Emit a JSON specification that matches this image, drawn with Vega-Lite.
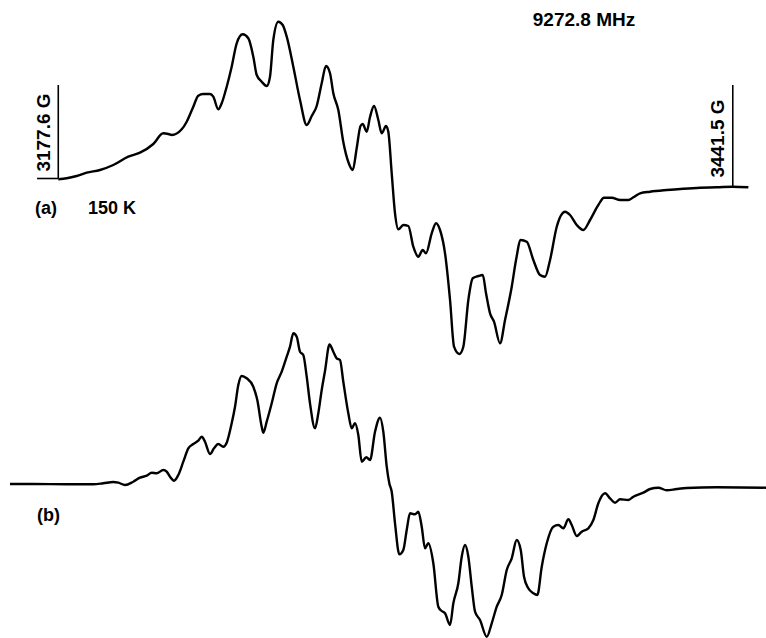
{
  "$schema": "https://vega.github.io/schema/vega-lite/v6.json",
  "description": "EPR first-derivative spectrum at 9272.8 MHz, 150 K: (a) recorded, (b) simulated.",
  "width": 766,
  "height": 638,
  "autosize": {"type": "none"},
  "padding": 0,
  "background": "white",
  "config": {
    "view": {"stroke": null},
    "text": {"font": "Liberation Sans", "fontWeight": "bold", "fontSize": 18, "color": "black"}
  },
  "datasets": {
    "spectra": [
      {"trace": "a", "B": 3177.60, "I": 3.7},
      {"trace": "a", "B": 3180.89, "I": 4.7},
      {"trace": "a", "B": 3184.80, "I": 7},
      {"trace": "a", "B": 3188.72, "I": 10.3},
      {"trace": "a", "B": 3193.92, "I": 13},
      {"trace": "a", "B": 3199.12, "I": 18},
      {"trace": "a", "B": 3204.99, "I": 26.3},
      {"trace": "a", "B": 3209.57, "I": 30.3},
      {"trace": "a", "B": 3214.78, "I": 39},
      {"trace": "a", "B": 3218.69, "I": 49.7},
      {"trace": "a", "B": 3220.65, "I": 49},
      {"trace": "a", "B": 3221.98, "I": 48},
      {"trace": "a", "B": 3225.89, "I": 53.7},
      {"trace": "a", "B": 3227.85, "I": 61.3},
      {"trace": "a", "B": 3230.43, "I": 76.3},
      {"trace": "a", "B": 3232.38, "I": 87.3},
      {"trace": "a", "B": 3234.34, "I": 89},
      {"trace": "a", "B": 3236.96, "I": 89},
      {"trace": "a", "B": 3238.25, "I": 86.3},
      {"trace": "a", "B": 3240.21, "I": 73.7},
      {"trace": "a", "B": 3241.54, "I": 79.7},
      {"trace": "a", "B": 3243.50, "I": 96.3},
      {"trace": "a", "B": 3245.45, "I": 116.3},
      {"trace": "a", "B": 3247.41, "I": 139.7},
      {"trace": "a", "B": 3249.76, "I": 148.7},
      {"trace": "a", "B": 3251.95, "I": 144.7},
      {"trace": "a", "B": 3253.91, "I": 126.3},
      {"trace": "a", "B": 3255.24, "I": 108},
      {"trace": "a", "B": 3257.19, "I": 101.3},
      {"trace": "a", "B": 3259.15, "I": 97},
      {"trace": "a", "B": 3260.44, "I": 106.3},
      {"trace": "a", "B": 3261.73, "I": 143},
      {"trace": "a", "B": 3263.69, "I": 161.3},
      {"trace": "a", "B": 3265.41, "I": 158},
      {"trace": "a", "B": 3266.98, "I": 146.3},
      {"trace": "a", "B": 3269.56, "I": 116.3},
      {"trace": "a", "B": 3272.18, "I": 83},
      {"trace": "a", "B": 3274.80, "I": 58},
      {"trace": "a", "B": 3276.76, "I": 67},
      {"trace": "a", "B": 3278.71, "I": 77},
      {"trace": "a", "B": 3280.67, "I": 99.7},
      {"trace": "a", "B": 3282.35, "I": 117},
      {"trace": "a", "B": 3283.92, "I": 109.7},
      {"trace": "a", "B": 3285.21, "I": 89.7},
      {"trace": "a", "B": 3287.17, "I": 73},
      {"trace": "a", "B": 3289.12, "I": 41},
      {"trace": "a", "B": 3291.08, "I": 21},
      {"trace": "a", "B": 3292.80, "I": 13},
      {"trace": "a", "B": 3294.37, "I": 35},
      {"trace": "a", "B": 3295.85, "I": 57},
      {"trace": "a", "B": 3296.71, "I": 59},
      {"trace": "a", "B": 3298.28, "I": 51.3},
      {"trace": "a", "B": 3299.57, "I": 66},
      {"trace": "a", "B": 3301.14, "I": 77},
      {"trace": "a", "B": 3302.82, "I": 63},
      {"trace": "a", "B": 3304.15, "I": 49.7},
      {"trace": "a", "B": 3305.83, "I": 57},
      {"trace": "a", "B": 3306.73, "I": 51.3},
      {"trace": "a", "B": 3308.06, "I": 9.7},
      {"trace": "a", "B": 3309.35, "I": -30.3},
      {"trace": "a", "B": 3310.65, "I": -46.3},
      {"trace": "a", "B": 3312.60, "I": -42},
      {"trace": "a", "B": 3314.56, "I": -43},
      {"trace": "a", "B": 3316.51, "I": -63.7},
      {"trace": "a", "B": 3318.47, "I": -73.7},
      {"trace": "a", "B": 3320.19, "I": -67},
      {"trace": "a", "B": 3321.48, "I": -70.3},
      {"trace": "a", "B": 3323.71, "I": -50.3},
      {"trace": "a", "B": 3325.40, "I": -40.3},
      {"trace": "a", "B": 3326.96, "I": -47},
      {"trace": "a", "B": 3328.92, "I": -70.3},
      {"trace": "a", "B": 3330.88, "I": -117},
      {"trace": "a", "B": 3332.44, "I": -163.7},
      {"trace": "a", "B": 3334.51, "I": -171},
      {"trace": "a", "B": 3336.08, "I": -163.7},
      {"trace": "a", "B": 3338.04, "I": -117},
      {"trace": "a", "B": 3339.76, "I": -95.3},
      {"trace": "a", "B": 3341.95, "I": -93},
      {"trace": "a", "B": 3343.67, "I": -92},
      {"trace": "a", "B": 3344.96, "I": -110.3},
      {"trace": "a", "B": 3346.53, "I": -130.3},
      {"trace": "a", "B": 3348.09, "I": -138.7},
      {"trace": "a", "B": 3350.44, "I": -160.3},
      {"trace": "a", "B": 3352.40, "I": -137},
      {"trace": "a", "B": 3355.02, "I": -103.7},
      {"trace": "a", "B": 3356.70, "I": -77},
      {"trace": "a", "B": 3358.54, "I": -57},
      {"trace": "a", "B": 3360.89, "I": -58.7},
      {"trace": "a", "B": 3363.47, "I": -77},
      {"trace": "a", "B": 3366.09, "I": -92},
      {"trace": "a", "B": 3368.05, "I": -93.7},
      {"trace": "a", "B": 3370.01, "I": -77},
      {"trace": "a", "B": 3372.63, "I": -43.7},
      {"trace": "a", "B": 3375.87, "I": -28.7},
      {"trace": "a", "B": 3377.83, "I": -32},
      {"trace": "a", "B": 3380.45, "I": -42},
      {"trace": "a", "B": 3383.04, "I": -47},
      {"trace": "a", "B": 3385.66, "I": -37},
      {"trace": "a", "B": 3388.90, "I": -22},
      {"trace": "a", "B": 3391.14, "I": -14.7},
      {"trace": "a", "B": 3394.15, "I": -14.7},
      {"trace": "a", "B": 3397.40, "I": -17},
      {"trace": "a", "B": 3400.65, "I": -17},
      {"trace": "a", "B": 3402.60, "I": -14.3},
      {"trace": "a", "B": 3405.22, "I": -10.3},
      {"trace": "a", "B": 3409.14, "I": -8.7},
      {"trace": "a", "B": 3415.67, "I": -7},
      {"trace": "a", "B": 3422.17, "I": -5.7},
      {"trace": "a", "B": 3428.70, "I": -4.7},
      {"trace": "a", "B": 3435.23, "I": -4.3},
      {"trace": "a", "B": 3441.50, "I": -3.7},
      {"trace": "a", "B": 3447.60, "I": -4.3},

      {"trace": "b", "B": 3158.70, "I": 3},
      {"trace": "b", "B": 3167.82, "I": 3},
      {"trace": "b", "B": 3180.89, "I": 2.7},
      {"trace": "b", "B": 3191.30, "I": 2.7},
      {"trace": "b", "B": 3195.21, "I": 3.7},
      {"trace": "b", "B": 3199.12, "I": 5},
      {"trace": "b", "B": 3201.08, "I": 4.3},
      {"trace": "b", "B": 3203.70, "I": 2},
      {"trace": "b", "B": 3206.95, "I": 5.3},
      {"trace": "b", "B": 3209.57, "I": 9.3},
      {"trace": "b", "B": 3212.19, "I": 11.3},
      {"trace": "b", "B": 3214.15, "I": 14.3},
      {"trace": "b", "B": 3216.11, "I": 13.7},
      {"trace": "b", "B": 3218.69, "I": 17},
      {"trace": "b", "B": 3220.02, "I": 15.3},
      {"trace": "b", "B": 3221.31, "I": 10.3},
      {"trace": "b", "B": 3222.88, "I": 6.3},
      {"trace": "b", "B": 3224.56, "I": 12},
      {"trace": "b", "B": 3226.52, "I": 25.3},
      {"trace": "b", "B": 3228.47, "I": 38.7},
      {"trace": "b", "B": 3230.43, "I": 43},
      {"trace": "b", "B": 3232.38, "I": 46.3},
      {"trace": "b", "B": 3233.72, "I": 50.3},
      {"trace": "b", "B": 3235.01, "I": 45.3},
      {"trace": "b", "B": 3236.96, "I": 33},
      {"trace": "b", "B": 3238.53, "I": 38.7},
      {"trace": "b", "B": 3240.21, "I": 43},
      {"trace": "b", "B": 3242.17, "I": 40.3},
      {"trace": "b", "B": 3243.50, "I": 44.3},
      {"trace": "b", "B": 3245.45, "I": 63.7},
      {"trace": "b", "B": 3246.75, "I": 80.3},
      {"trace": "b", "B": 3248.04, "I": 102},
      {"trace": "b", "B": 3249.37, "I": 111},
      {"trace": "b", "B": 3251.32, "I": 108.7},
      {"trace": "b", "B": 3253.91, "I": 100.3},
      {"trace": "b", "B": 3255.47, "I": 87},
      {"trace": "b", "B": 3257.19, "I": 60.3},
      {"trace": "b", "B": 3257.82, "I": 54.3},
      {"trace": "b", "B": 3259.15, "I": 65.3},
      {"trace": "b", "B": 3261.11, "I": 83.7},
      {"trace": "b", "B": 3263.06, "I": 103.7},
      {"trace": "b", "B": 3265.02, "I": 115.3},
      {"trace": "b", "B": 3266.98, "I": 130.3},
      {"trace": "b", "B": 3268.27, "I": 140.3},
      {"trace": "b", "B": 3269.56, "I": 153.7},
      {"trace": "b", "B": 3270.89, "I": 150.3},
      {"trace": "b", "B": 3272.18, "I": 135.3},
      {"trace": "b", "B": 3273.47, "I": 132},
      {"trace": "b", "B": 3274.80, "I": 110.3},
      {"trace": "b", "B": 3276.09, "I": 83.7},
      {"trace": "b", "B": 3278.05, "I": 58.7},
      {"trace": "b", "B": 3279.34, "I": 73.7},
      {"trace": "b", "B": 3280.67, "I": 97},
      {"trace": "b", "B": 3281.96, "I": 116},
      {"trace": "b", "B": 3283.72, "I": 142.5},
      {"trace": "b", "B": 3285.21, "I": 135.3},
      {"trace": "b", "B": 3286.54, "I": 128.7},
      {"trace": "b", "B": 3287.83, "I": 127},
      {"trace": "b", "B": 3289.12, "I": 105.3},
      {"trace": "b", "B": 3291.08, "I": 73.7},
      {"trace": "b", "B": 3292.41, "I": 58.7},
      {"trace": "b", "B": 3293.70, "I": 63.7},
      {"trace": "b", "B": 3294.99, "I": 52},
      {"trace": "b", "B": 3296.32, "I": 25.3},
      {"trace": "b", "B": 3298.12, "I": 29.7},
      {"trace": "b", "B": 3299.57, "I": 27},
      {"trace": "b", "B": 3301.53, "I": 55.3},
      {"trace": "b", "B": 3303.48, "I": 69.3},
      {"trace": "b", "B": 3304.77, "I": 55.3},
      {"trace": "b", "B": 3306.11, "I": 20.3},
      {"trace": "b", "B": 3307.12, "I": 3.7},
      {"trace": "b", "B": 3308.06, "I": -4.7},
      {"trace": "b", "B": 3309.35, "I": -36.3},
      {"trace": "b", "B": 3311.04, "I": -67.3},
      {"trace": "b", "B": 3312.60, "I": -63},
      {"trace": "b", "B": 3313.93, "I": -43},
      {"trace": "b", "B": 3315.22, "I": -26.3},
      {"trace": "b", "B": 3317.18, "I": -27.3},
      {"trace": "b", "B": 3318.47, "I": -24.7},
      {"trace": "b", "B": 3319.80, "I": -39.7},
      {"trace": "b", "B": 3321.09, "I": -61.3},
      {"trace": "b", "B": 3322.38, "I": -56.3},
      {"trace": "b", "B": 3324.34, "I": -76.3},
      {"trace": "b", "B": 3326.30, "I": -119.7},
      {"trace": "b", "B": 3327.63, "I": -124},
      {"trace": "b", "B": 3328.92, "I": -126.3},
      {"trace": "b", "B": 3330.88, "I": -138},
      {"trace": "b", "B": 3332.17, "I": -116.3},
      {"trace": "b", "B": 3334.12, "I": -96.3},
      {"trace": "b", "B": 3335.45, "I": -69.7},
      {"trace": "b", "B": 3336.74, "I": -58},
      {"trace": "b", "B": 3338.04, "I": -69.7},
      {"trace": "b", "B": 3339.37, "I": -99.7},
      {"trace": "b", "B": 3340.66, "I": -124.7},
      {"trace": "b", "B": 3342.61, "I": -133},
      {"trace": "b", "B": 3345.24, "I": -149.7},
      {"trace": "b", "B": 3347.19, "I": -136.3},
      {"trace": "b", "B": 3349.15, "I": -119.7},
      {"trace": "b", "B": 3351.10, "I": -108},
      {"trace": "b", "B": 3353.06, "I": -83},
      {"trace": "b", "B": 3355.02, "I": -71.3},
      {"trace": "b", "B": 3356.97, "I": -53},
      {"trace": "b", "B": 3358.54, "I": -63},
      {"trace": "b", "B": 3359.83, "I": -89.7},
      {"trace": "b", "B": 3361.51, "I": -101.3},
      {"trace": "b", "B": 3363.47, "I": -106.3},
      {"trace": "b", "B": 3365.04, "I": -108},
      {"trace": "b", "B": 3366.76, "I": -79.7},
      {"trace": "b", "B": 3368.71, "I": -56.3},
      {"trace": "b", "B": 3371.30, "I": -39.7},
      {"trace": "b", "B": 3373.25, "I": -38},
      {"trace": "b", "B": 3375.21, "I": -41.3},
      {"trace": "b", "B": 3377.17, "I": -32.3},
      {"trace": "b", "B": 3378.50, "I": -38},
      {"trace": "b", "B": 3380.45, "I": -49},
      {"trace": "b", "B": 3382.41, "I": -44.7},
      {"trace": "b", "B": 3384.99, "I": -41.3},
      {"trace": "b", "B": 3386.95, "I": -33},
      {"trace": "b", "B": 3388.90, "I": -16.3},
      {"trace": "b", "B": 3391.53, "I": -6.3},
      {"trace": "b", "B": 3393.48, "I": -11.3},
      {"trace": "b", "B": 3395.44, "I": -15.7},
      {"trace": "b", "B": 3397.40, "I": -12.3},
      {"trace": "b", "B": 3400.65, "I": -13},
      {"trace": "b", "B": 3402.60, "I": -9.7},
      {"trace": "b", "B": 3406.51, "I": -5.7},
      {"trace": "b", "B": 3409.14, "I": -2},
      {"trace": "b", "B": 3412.38, "I": -0.7},
      {"trace": "b", "B": 3415.67, "I": -3.3},
      {"trace": "b", "B": 3419.58, "I": -2},
      {"trace": "b", "B": 3423.49, "I": -1},
      {"trace": "b", "B": 3435.23, "I": -0.3},
      {"trace": "b", "B": 3454.53, "I": -0.7}
    ]
  },
  "layer": [
    {
      "layer": [
        {
          "data": {"name": "spectra"},
          "transform": [{"filter": "datum.trace === 'a'"}],
          "mark": {"type": "line", "interpolate": "monotone", "strokeWidth": 2.4, "color": "black"},
          "encoding": {
            "x": {"field": "B", "type": "quantitative", "scale": {"domain": [3154.8, 3454.5], "nice": false, "zero": false}, "axis": null},
            "y": {"field": "I", "type": "quantitative", "scale": {"domain": [-455, 183], "nice": false, "zero": false}, "axis": null}
          }
        },
        {
          "data": {"values": [{}]},
          "mark": {"type": "rule", "strokeWidth": 1.6, "color": "black"},
          "encoding": {
            "x": {"datum": 3177.6, "type": "quantitative"},
            "y": {"datum": 98, "type": "quantitative"},
            "y2": {"datum": 4.5}
          }
        },
        {
          "data": {"values": [{}]},
          "mark": {"type": "rule", "strokeWidth": 1.6, "color": "black"},
          "encoding": {
            "x": {"datum": 3169.3, "type": "quantitative"},
            "x2": {"datum": 3177.6},
            "y": {"datum": 4.5, "type": "quantitative"}
          }
        },
        {
          "data": {"values": [{}]},
          "mark": {"type": "rule", "strokeWidth": 1.6, "color": "black"},
          "encoding": {
            "x": {"datum": 3441.5, "type": "quantitative"},
            "y": {"datum": 98, "type": "quantitative"},
            "y2": {"datum": -4}
          }
        },
        {
          "data": {"values": [{}]},
          "mark": {"type": "text", "text": "9272.8 MHz", "align": "center", "baseline": "middle", "fontSize": 19},
          "encoding": {
            "x": {"datum": 3383.3, "type": "quantitative"},
            "y": {"datum": 163, "type": "quantitative"}
          }
        },
        {
          "data": {"values": [{}]},
          "mark": {"type": "text", "text": "3177.6 G", "align": "center", "baseline": "middle", "angle": 270, "fontSize": 19},
          "encoding": {
            "x": {"datum": 3172.0, "type": "quantitative"},
            "y": {"datum": 50.5, "type": "quantitative"}
          }
        },
        {
          "data": {"values": [{}]},
          "mark": {"type": "text", "text": "3441.5 G", "align": "center", "baseline": "middle", "angle": 270, "fontSize": 19},
          "encoding": {
            "x": {"datum": 3435.6, "type": "quantitative"},
            "y": {"datum": 44.5, "type": "quantitative"}
          }
        },
        {
          "data": {"values": [{}]},
          "mark": {"type": "text", "text": "(a)", "align": "left", "baseline": "middle"},
          "encoding": {
            "x": {"datum": 3168.5, "type": "quantitative"},
            "y": {"datum": -26, "type": "quantitative"}
          }
        },
        {
          "data": {"values": [{}]},
          "mark": {"type": "text", "text": "150 K", "align": "left", "baseline": "middle"},
          "encoding": {
            "x": {"datum": 3189.2, "type": "quantitative"},
            "y": {"datum": -26, "type": "quantitative"}
          }
        }
      ]
    },
    {
      "layer": [
        {
          "data": {"name": "spectra"},
          "transform": [{"filter": "datum.trace === 'b'"}],
          "mark": {"type": "line", "interpolate": "monotone", "strokeWidth": 2.4, "color": "black"},
          "encoding": {
            "x": {"field": "B", "type": "quantitative", "scale": {"domain": [3154.8, 3454.5], "nice": false, "zero": false}, "axis": null},
            "y": {"field": "I", "type": "quantitative", "scale": {"domain": [-151, 487], "nice": false, "zero": false}, "axis": null}
          }
        },
        {
          "data": {"values": [{}]},
          "mark": {"type": "text", "text": "(b)", "align": "left", "baseline": "middle"},
          "encoding": {
            "x": {"datum": 3169.3, "type": "quantitative"},
            "y": {"datum": -29, "type": "quantitative"}
          }
        }
      ]
    }
  ],
  "resolve": {"scale": {"y": "independent"}}
}
